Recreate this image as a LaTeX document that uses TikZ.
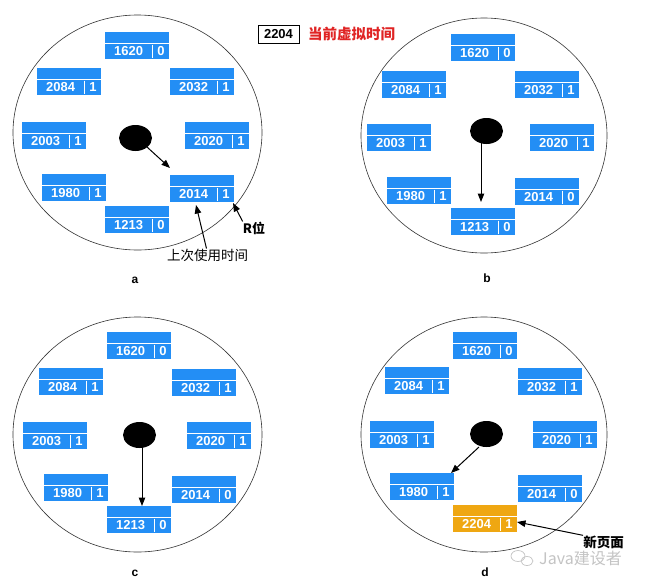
\documentclass[tikz,border=0pt]{standalone}
\usepackage{fontspec}
\setmainfont{Liberation Sans}
\newfontfamily\cjk{Noto Sans CJK SC}
\usetikzlibrary{calc,arrows.meta,shapes.geometric}
\definecolor{pblue}{HTML}{238EF5}
\definecolor{porange}{HTML}{EFA712}
\definecolor{hred}{HTML}{E02424}
\definecolor{wmgray}{HTML}{C4C4C4}
\tikzset{
  pagecell/.style={rectangle, inner sep=0pt, minimum width=64pt, minimum height=27pt, draw=none},
  sepline/.style={white, line width=0.9pt},
  celltext/.style={text=white, font=\fontsize{13}{15}\selectfont\bfseries, inner sep=0pt},
  dial/.style={draw=black!80, line width=0.6pt},
  hub/.style={ellipse, fill=black, minimum width=33pt, minimum height=26pt, inner sep=0pt},
  ptr/.style={-{Triangle[length=8.5pt,width=6.5pt]}, line width=1pt, black},
  panel/.style={font=\fontsize{12}{14}\selectfont\bfseries},
  note/.style={font=\cjk\fontsize{13.5}{15}\selectfont, inner sep=0pt},
}
\newcommand{\pbox}[6]{%
  \node[pagecell, fill=#6, anchor=north west] (#1) at (#2,#3) {};
  \draw[sepline] ([yshift=-11pt]#1.north west) -- ([yshift=-11pt]#1.north east);
  \draw[sepline] ([xshift=-17pt,yshift=-12.5pt]#1.north east) -- ([xshift=-17pt,yshift=1.5pt]#1.south east);
  \node[celltext] (#1-n) at ($(#1.south west)!0.5!([xshift=-17pt,yshift=-11pt]#1.north east)$) {#4};
  \node[celltext] (#1-b) at ($(#1.south east)!0.5!([xshift=-17pt,yshift=-11pt]#1.north east)$) {#5};
}
\begin{document}
\begin{tikzpicture}[x=1pt,y=-1pt]
\useasboundingbox (0,0) rectangle (653,582);
\fill[white] (0,0) rectangle (653,582);

% header
\node[draw=black, line width=1pt, inner sep=0pt, minimum width=41pt, minimum height=18pt,
      font=\fontsize{13}{15}\selectfont\bfseries] (now) at (278.5,34) {2204};
\node[anchor=west, inner sep=0pt, text=hred, font=\cjk\fontsize{14.5}{16}\selectfont\bfseries] (nowlbl) at (308,34) {当前虚拟时间};

% ---------- panel a ----------
\node[dial, ellipse, minimum width=249pt, minimum height=235pt, inner sep=0pt] (aC) at (137.5,132.5) {};
\pbox{a1620}{105}{32}{1620}{0}{pblue}
\pbox{a2084}{37}{68}{2084}{1}{pblue}
\pbox{a2032}{170}{68}{2032}{1}{pblue}
\pbox{a2003}{22}{122}{2003}{1}{pblue}
\pbox{a2020}{185}{122}{2020}{1}{pblue}
\pbox{a1980}{42}{174}{1980}{1}{pblue}
\pbox{a2014}{170}{175}{2014}{1}{pblue}
\pbox{a1213}{105}{206}{1213}{0}{pblue}
\node[hub] (aE) at (135.5,138) {};
\coordinate (aTip) at (170,168);
\draw[ptr] (147,147) -- (aTip);
\node[note] (aLast) at (207.5,255) {上次使用时间};
\node[note, font=\cjk\fontsize{13}{15}\selectfont\bfseries] (aR) at (254,228) {R位};
\coordinate (aLastTip) at (196,205);
\coordinate (aRTip) at (233,203);
\draw[ptr] ([xshift=-1pt]aLast.north) -- (aLastTip);
\draw[ptr] (aR.north west) -- (aRTip);
\node[panel] (aLbl) at (135,280) {a};

% ---------- panel b ----------
\node[dial, ellipse, minimum width=246pt, minimum height=235pt, inner sep=0pt] (bC) at (484,135.5) {};
\pbox{b1620}{451}{34}{1620}{0}{pblue}
\pbox{b2084}{382}{71}{2084}{1}{pblue}
\pbox{b2032}{515}{71}{2032}{1}{pblue}
\pbox{b2003}{367}{124}{2003}{1}{pblue}
\pbox{b2020}{530}{124}{2020}{1}{pblue}
\pbox{b1980}{387}{177}{1980}{1}{pblue}
\pbox{b2014}{515}{178}{2014}{0}{pblue}
\pbox{b1213}{451}{208}{1213}{0}{pblue}
\node[hub] (bE) at (486.5,131) {};
\coordinate (bTip) at (481,202);
\draw[ptr] (481,138) -- (bTip);
\node[panel] (bLbl) at (487,278) {b};

% ---------- panel c ----------
\node[dial, ellipse, minimum width=249pt, minimum height=235pt, inner sep=0pt] (cC) at (137.5,434.5) {};
\pbox{c1620}{107}{332}{1620}{0}{pblue}
\pbox{c2084}{39}{368}{2084}{1}{pblue}
\pbox{c2032}{172}{369}{2032}{1}{pblue}
\pbox{c2003}{23}{422}{2003}{1}{pblue}
\pbox{c2020}{187}{422}{2020}{1}{pblue}
\pbox{c1980}{44}{474}{1980}{1}{pblue}
\pbox{c2014}{172}{476}{2014}{0}{pblue}
\pbox{c1213}{107}{506}{1213}{0}{pblue}
\node[hub] (cE) at (139.5,435) {};
\coordinate (cTip) at (142,506);
\draw[ptr] (142,442) -- (cTip);
\node[panel] (cLbl) at (135,573) {c};

% ---------- panel d ----------
\node[dial, ellipse, minimum width=246pt, minimum height=235pt, inner sep=0pt] (dC) at (484,434.5) {};
\pbox{d1620}{453}{332}{1620}{0}{pblue}
\pbox{d2084}{385}{367}{2084}{1}{pblue}
\pbox{d2032}{518}{368}{2032}{1}{pblue}
\pbox{d2003}{370}{421}{2003}{1}{pblue}
\pbox{d2020}{533}{421}{2020}{1}{pblue}
\pbox{d1980}{390}{473}{1980}{1}{pblue}
\pbox{d2014}{518}{475}{2014}{0}{pblue}
\pbox{d2204}{453}{505}{2204}{1}{porange}
\node[hub] (dE) at (486.5,434) {};
\coordinate (dTip) at (451,473);
\draw[ptr] (479,447) -- (dTip);
\node[note, font=\cjk\fontsize{13.5}{15}\selectfont\bfseries] (dNew) at (603.5,542) {新页面};
\coordinate (dNewTip) at (517,522);
\draw[ptr] (dNew.north west) -- (dNewTip);
\node[panel] (dLbl) at (485,572) {d};

% watermark
\draw[wmgray, line width=0.7pt] (518,556) ellipse (7pt and 5.5pt);
\draw[wmgray, line width=0.7pt] (527,561) ellipse (6pt and 4.5pt);
\node[anchor=west, inner sep=0pt, text=wmgray, font=\cjk\fontsize{16}{18}\selectfont] (wm) at (539,558) {Java建设者};
\end{tikzpicture}
\end{document}
